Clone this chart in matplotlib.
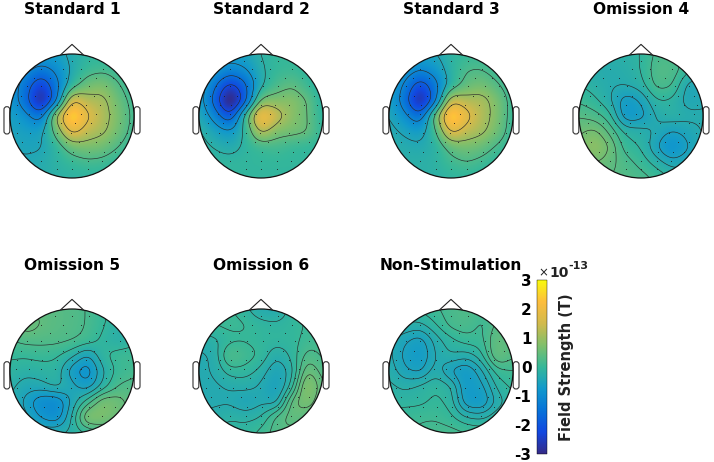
#!/usr/bin/env python
# -*- coding: utf-8 -*-
"""
plot.py

Topographic field maps for the standard / omission / non-stimulation conditions
"""

import matplotlib
matplotlib.use('Agg')
import matplotlib.pyplot as plt
import numpy as np
from matplotlib.cm import ScalarMappable
from matplotlib.colors import LinearSegmentedColormap, Normalize
from matplotlib.patches import Circle, FancyBboxPatch

W, H = 714., 462.

titles = ['Standard 1', 'Standard 2', 'Standard 3', 'Omission 4',
          'Omission 5', 'Omission 6', 'Non-Stimulation']

# field in units of 1e-13 T, rows top of the head to bottom, columns left to right
grid_x = [-1, -.75, -.5, -.25, 0, .25, .5, .75, 1]
grid_y = [1, .75, .5, .25, 0, -.25, -.5, -.75, -1]

standard1 = [[-.6, -.6, -.6, -.6, -.3, -.1, -.1, -.1, -.1],
             [-.7, -.9, -1.4, -1.0, -.35, .05, .15, .0, -.1],
             [-.7, -1.5, -2.5, -1.4, -.1, .6, .75, .3, -.1],
             [-.7, -1.6, -3.2, -1.5, 1.9, 1.2, 1.15, .55, .05],
             [-.55, -.9, -1.6, 1.3, 3.0, 1.8, 1.2, .7, .1],
             [-.5, -.6, -.6, .5, 2.0, 1.3, 1.1, .6, .05],
             [-.4, -.5, -.5, -.1, .55, .7, .6, .25, -.1],
             [-.4, -.4, -.3, -.15, .0, .15, .1, -.1, -.2],
             [-.3, -.3, -.3, -.2, -.15, -.15, -.15, -.2, -.2]]

standard2 = [[-.6, -.6, -.6, -.5, -.15, .0, .0, -.1, -.2],
             [-.3, -.7, -1.1, -.9, -.25, .0, .05, -.1, -.3],
             [-.4, -1.4, -2.5, -1.7, -.3, .2, .45, .05, -.3],
             [-.5, -1.8, -3.6, -1.9, .7, .75, .85, .5, -.25],
             [-.35, -1.1, -2.2, .2, 2.5, 1.5, .85, .5, -.15],
             [-.1, -.5, -.8, -.1, 1.4, .7, .65, .55, -.1],
             [-.05, -.2, -.35, -.1, .05, .15, .0, -.05, -.1],
             [.0, -.05, -.05, -.05, -.05, -.05, -.05, -.05, -.05],
             [.0, .0, -.05, -.05, -.05, -.05, -.05, -.05, -.05]]

standard3 = [[-.5, -.5, -.5, -.45, -.1, .0, .0, -.1, -.2],
             [-.4, -.7, -1.1, -.8, -.15, .25, .25, .0, -.1],
             [-.5, -1.2, -2.3, -1.4, -.2, .45, .65, .3, -.1],
             [-.5, -1.5, -3.2, -1.5, 1.6, 1.2, 1.2, .7, .0],
             [-.4, -.9, -1.7, .7, 3.0, 1.9, 1.2, .75, -.05],
             [-.3, -.5, -.7, .1, 1.9, 1.3, 1.1, .6, -.05],
             [-.2, -.3, -.35, -.2, .45, .65, .5, .15, -.1],
             [-.2, -.2, -.2, -.15, .1, .25, .1, -.1, -.2],
             [-.2, -.2, -.2, -.2, -.1, -.1, -.15, -.2, -.2]]

omission4 = [[-.2, -.2, -.2, -.2, -.1, .2, .2, .0, -.2],
             [-.2, -.3, -.3, -.25, -.1, .3, .3, .0, -.25],
             [-.1, -.2, -.3, -.3, -.2, .25, .2, -.45, -.45],
             [.1, -.05, -.3, -.75, -.55, -.1, -.15, -.45, -.35],
             [.35, .25, .0, -.8, -.7, -.3, -.15, -.25, -.3],
             [.55, .7, .3, -.15, -.2, -.35, -.6, -.45, -.3],
             [.65, 1.0, .6, .0, -.1, -.55, -1.0, -.6, -.3],
             [.5, .6, .45, .25, .05, -.2, -.45, -.35, -.3],
             [.4, .4, .35, .3, .25, .1, -.1, -.2, -.3]]

omission5 = [[.3, .4, .4, .35, .3, .2, .0, -.1, -.1],
             [.3, .65, .45, .35, .3, .2, .0, -.2, -.2],
             [.2, .3, .3, .3, .25, .15, -.1, -.25, -.1],
             [.0, .0, .05, .0, -.2, -.6, -.05, .1, .1],
             [-.1, -.2, -.15, -.1, -.7, -1.0, -.3, .05, .15],
             [-.2, -.4, -.35, -.15, -.4, -.7, -.2, .25, .3],
             [-.25, -.6, -1.05, -1.1, -.45, .1, .75, .6, .3],
             [-.25, -.4, -.8, -1.0, -.25, .9, .75, .5, .3],
             [-.2, -.2, -.25, -.25, -.2, -.1, .1, .2, .2]]

omission6 = [[.0, .05, .05, -.1, -.35, -.35, -.05, .1, .1],
             [.0, .05, .1, .05, -.05, -.1, -.05, .05, .1],
             [-.25, -.2, -.05, .0, -.05, -.05, -.05, .1, .15],
             [-.35, -.3, .35, .15, .0, -.3, -.1, .3, .15],
             [-.35, -.3, -.05, -.05, -.2, -.5, -.25, .6, .25],
             [-.35, -.35, -.3, -.25, -.35, -.6, -.1, .95, .35],
             [-.35, -.35, -.35, -.5, -.35, -.45, .5, .75, .25],
             [-.3, -.25, -.15, -.2, -.15, .3, .5, .3, .25],
             [-.15, -.1, -.05, -.05, .1, .3, .3, .2, .2]]

nonstim = [[-.1, -.1, .0, .1, .2, .3, .15, .1, .1],
           [-.2, -.2, -.25, -.05, .2, .25, .05, .35, .3],
           [-.3, -.5, -.65, -.3, -.1, .05, .05, .5, .3],
           [-.3, -.6, -.75, -.35, -.2, -.3, -.1, .55, .3],
           [-.25, -.5, -.6, -.25, -.6, -.75, -.4, .05, .1],
           [-.15, -.25, -.15, -.05, -.15, -.75, -.6, -.15, .0],
           [-.1, -.1, -.1, .0, -.1, -.7, -.75, -.3, -.1],
           [.05, .05, .1, .1, .0, -.2, -.25, -.05, .0],
           [.1, .1, .15, .2, .2, .15, .1, .1, .1]]

fields = [standard1, standard2, standard3, omission4, omission5, omission6, nonstim]

# sensor positions on the head, one list of x per row of about equal y
sensor_y = [.88, .75, .62, .48, .33, .18, .03, -.12, -.28, -.42, -.58, -.72, -.86]
sensor_x = [[-.28, .0, .28],
            [-.5, -.15, .15, .5],
            [-.62, -.35, -.1, .13, .38, .66],
            [-.72, -.5, -.22, .03, .28, .55, .78],
            [-.82, -.6, -.38, -.15, .1, .35, .6, .85],
            [-.88, -.66, -.48, -.25, .0, .22, .45, .7, .9],
            [-.9, -.7, -.5, -.28, -.08, .15, .38, .62, .85],
            [-.85, -.62, -.42, -.18, .05, .3, .55, .78, .93],
            [-.88, -.68, -.45, -.25, -.02, .22, .45, .7, .88],
            [-.8, -.55, -.33, -.1, .12, .38, .6, .78],
            [-.68, -.45, -.22, .02, .28, .52, .7],
            [-.5, -.25, .0, .25, .48],
            [-.25, .0, .25]]

cbar_ticks = [-3, -2, -1, 0, 1, 2, 3]

parula = LinearSegmentedColormap.from_list('parula', [
    (.208, .166, .529), (.07, .28, .88), (.03, .45, .85), (.07, .60, .80),
    (.21, .72, .60), (.50, .75, .42), (.82, .73, .30), (.99, .74, .24),
    (.976, .98, .055)])

# panel centres in pixels, head radius in pixels
centres = [(72, 116), (261, 116), (451, 116), (641, 116),
           (72, 371), (261, 371), (451, 371)]
RADIUS = 62.
EXTENT = 1.25
SIGMA = .08  # smoothing of the coarse field, in head radii


def blur(z, n):
    """
    gaussian blur along the last axis, n is sigma in samples
    """
    kern = np.exp(-.5 * (np.arange(-3 * n, 3 * n + 1) / float(n))**2)
    kern /= kern.sum()
    out = np.zeros_like(z)
    for ii, row in enumerate(z):
        pad = np.pad(row, 3 * n, mode='edge')
        out[ii] = np.convolve(pad, kern, mode='valid')
    return out


def upsample(field):
    """
    bring the coarse field onto a fine grid for the map and the contours
    """
    knots = np.array(grid_x, dtype=float)
    fine = np.linspace(-1, 1, 300)
    z = np.array(field, dtype=float)[::-1]  # grid_y runs top to bottom
    z = np.array([np.interp(fine, knots, row) for row in z])
    z = np.array([np.interp(fine, knots, col) for col in z.T]).T
    n = int(round(SIGMA / (fine[1] - fine[0])))
    z = blur(z, n)
    z = blur(z.T, n).T
    fx, fy = np.meshgrid(fine, fine)
    return fx, fy, z


def topo(ax, field):
    """
    draw one head: map, contours, sensors, outline
    """
    fx, fy, fz = upsample(field)
    inside = fx**2 + fy**2 <= 1
    zmin, zmax = fz[inside].min(), fz[inside].max()
    levels = np.linspace(zmin, zmax, 8)[1:-1]

    clip = Circle((0, 0), 1., transform=ax.transData)
    im = ax.imshow(fz, extent=(-1, 1, -1, 1), origin='lower', cmap=parula,
                   vmin=-3, vmax=3, interpolation='bilinear', zorder=1)
    im.set_clip_path(clip)
    cs = ax.contour(fx, fy, fz, levels=levels, colors='#2a2a2a', linewidths=.45,
                    linestyles='solid', zorder=2)
    cs.set_clip_path(clip)

    sx = [x for row in sensor_x for x in row]
    sy = [y for row, y in zip(sensor_x, sensor_y) for x in row]
    ax.plot(sx, sy, ls='none', marker='.', ms=1.3, mew=0, color='#222222', zorder=3)

    ax.add_patch(Circle((0, 0), 1., fill=False, ec='#111111', lw=.9, zorder=4))
    ax.plot([-.18, 0, .18], [.99, 1.155, .99], color='#222222', lw=.8, zorder=4)
    for side in (-1, 1):
        x0 = 1.05 * side
        ax.add_patch(FancyBboxPatch((x0 - .012, -.255), .024, .37,
                                    boxstyle='round,pad=0.035,rounding_size=.045',
                                    fill=False, ec='#333333', lw=.8, zorder=0))
    ax.set_xlim(-EXTENT, EXTENT)
    ax.set_ylim(-EXTENT, EXTENT)
    ax.axis('off')


fig = plt.figure(figsize=(W / 100, H / 100), dpi=100)
half = RADIUS * EXTENT
for (cx, cy), field, title in zip(centres, fields, titles):
    ax = fig.add_axes([(cx - half) / W, 1 - (cy + half) / H, 2 * half / W, 2 * half / H])
    topo(ax, field)
    fig.text(cx / W, 1 - (cy - 106) / H, title, ha='center', va='center',
             fontsize=11.2, fontweight='bold', color='black')

cax = fig.add_axes([537 / W, 1 - 454 / H, 10 / W, 174 / H])
cb = fig.colorbar(ScalarMappable(norm=Normalize(-3, 3), cmap=parula), cax=cax, ticks=cbar_ticks)
cb.outline.set_linewidth(.3)
cb.ax.yaxis.set_ticks_position('left')
cb.ax.tick_params(length=0, pad=4)
cb.ax.set_yticklabels([str(t) for t in cbar_ticks], fontweight='bold', fontsize=11)
fig.text(538 / W, 1 - 273 / H, '\u00d7', fontsize=8.5, ha='left', va='center', color='#222222')
fig.text(549 / W, 1 - 273 / H, '10', fontsize=10, ha='left', va='center',
         fontweight='bold', color='#222222')
fig.text(568 / W, 1 - 266 / H, '-13', fontsize=8, ha='left', va='center',
         fontweight='bold', color='#222222')
fig.text(567 / W, 1 - 367 / H, 'Field Strength (T)', rotation=90, ha='center', va='center',
         fontsize=10.5, fontweight='bold', color='#222222')

fig.savefig('out.png', dpi=100)
